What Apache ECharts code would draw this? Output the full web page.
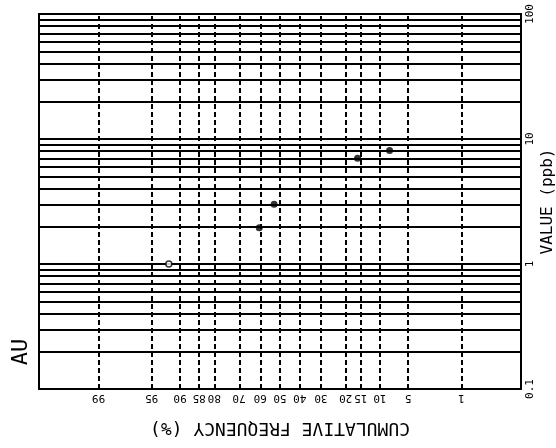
<!DOCTYPE html>
<html>
<head>
<meta charset="utf-8">
<script src="https://cdn.jsdelivr.net/npm/echarts@6/dist/echarts.min.js"></script>
<style>
  html, body { margin: 0; padding: 0; background: #fff; }
  #chart { width: 556px; height: 448px; }
</style>
</head>
<body>
<div id="chart"></div>
<script>
// Cumulative frequency (probability) plot of Au values, drawn sideways
const element = 'AU';
const freqTicks = [99, 95, 90, 85, 80, 70, 60, 50, 40, 30, 20, 15, 10, 5, 1];
const freqRange = [0.1, 99.9];
const valueRange = [0.1, 100];
const gridMultiples = [1, 2, 3, 4, 5, 6, 7, 8, 9];
const gridDecades = [0.1, 1, 10];

// samples: cumulative frequency (%) and value (ppb)
const sampleFreq = [60.5, 53, 16, 8];
const sampleValue = [1.95, 3.0, 7.0, 8.1];
// sample below the usual range, drawn hollow
const lowFreq = [92.3];
const lowValue = [1.0];

// inverse of the standard normal CDF (Acklam), used as the probability scale
function probit(pct) {
  const p = pct / 100;
  const a = [-3.969683028665376e+01, 2.209460984245205e+02, -2.759285104469687e+02,
             1.383577518672690e+02, -3.066479806614716e+01, 2.506628277459239e+00];
  const b = [-5.447609879822406e+01, 1.615858368580409e+02, -1.556989798598866e+02,
             6.680131188771972e+01, -1.328068155288572e+01];
  const c = [-7.784894002430293e-03, -3.223964580411365e-01, -2.400758277161838e+00,
             -2.549732539343734e+00, 4.374664141464968e+00, 2.938163982698783e+00];
  const d = [7.784695709041462e-03, 3.224671290700398e-01, 2.445134137142996e+00,
             3.754408661907416e+00];
  const pl = 0.02425, ph = 1 - pl;
  let q, r;
  if (p < pl) {
    q = Math.sqrt(-2 * Math.log(p));
    return (((((c[0]*q+c[1])*q+c[2])*q+c[3])*q+c[4])*q+c[5]) / ((((d[0]*q+d[1])*q+d[2])*q+d[3])*q+1);
  }
  if (p <= ph) {
    q = p - 0.5; r = q * q;
    return (((((a[0]*r+a[1])*r+a[2])*r+a[3])*r+a[4])*r+a[5])*q / (((((b[0]*r+b[1])*r+b[2])*r+b[3])*r+b[4])*r+1);
  }
  q = Math.sqrt(-2 * Math.log(1 - p));
  return -(((((c[0]*q+c[1])*q+c[2])*q+c[3])*q+c[4])*q+c[5]) / ((((d[0]*q+d[1])*q+d[2])*q+d[3])*q+1);
}

const freqZ = freqTicks.map(probit);
const valueGrid = [];
gridDecades.forEach(dec => gridMultiples.forEach(m => valueGrid.push(+(dec * m).toPrecision(3))));
valueGrid.push(valueRange[1]);

const FONT = '"DejaVu Sans Mono", monospace';
const chart = echarts.init(document.getElementById('chart'), null, { renderer: 'canvas' });

chart.setOption({
  animation: false,
  backgroundColor: '#fff',
  grid: {
    left: 39, right: 35, top: 14, bottom: 59,
    containLabel: false,
    outerBoundsMode: 'none',
    show: true, borderColor: '#000', borderWidth: 2, backgroundColor: 'transparent'
  },
  xAxis: {
    type: 'value',
    inverse: true,
    min: probit(freqRange[0]),
    max: probit(freqRange[1]),
    axisLine: { show: false },
    axisTick: { show: false },
    splitLine: { show: false },
    axisLabel: {
      customValues: freqZ,
      rotate: 180,
      margin: 3,
      color: '#000',
      fontFamily: FONT,
      fontSize: 11,
      formatter: v => {
        const i = freqZ.findIndex(z => Math.abs(z - v) < 1e-6);
        return i >= 0 ? String(freqTicks[i]) : '';
      }
    },
    name: 'CUMULATIVE FREQUENCY (%)',
    nameLocation: 'middle',
    nameRotate: 180,
    nameGap: 30,
    nameTextStyle: { color: '#000', fontFamily: FONT, fontSize: 18 }
  },
  yAxis: {
    type: 'log',
    logBase: 10,
    min: valueRange[0],
    max: valueRange[1],
    position: 'right',
    axisLine: { show: false },
    axisTick: { show: false },
    splitLine: { show: false },
    axisLabel: {
      rotate: 90,
      margin: 4,
      color: '#000',
      fontFamily: FONT,
      fontSize: 11,
      formatter: v => String(+v.toPrecision(3))
    },
    name: 'VALUE (ppb)',
    nameLocation: 'middle',
    nameRotate: 90,
    nameGap: 19,
    nameMoveOverlap: false,
    nameTextStyle: { color: '#000', fontFamily: FONT, fontSize: 16 }
  },
  graphic: [{
    type: 'text',
    x: 21, y: 352,
    rotation: Math.PI / 2,
    style: {
      text: element,
      fill: '#000',
      font: '22px ' + FONT,
      textAlign: 'center',
      textVerticalAlign: 'middle'
    }
  }],
  series: [
    {
      name: 'value grid',
      type: 'line',
      data: [],
      silent: true,
      markLine: {
        silent: true,
        symbol: ['none', 'none'],
        label: { show: false },
        lineStyle: { color: '#000', type: 'solid', width: 1.8 },
        data: valueGrid.map(v => ({ yAxis: v }))
      }
    },
    {
      name: 'frequency grid',
      type: 'line',
      data: [],
      silent: true,
      markLine: {
        silent: true,
        symbol: ['none', 'none'],
        label: { show: false },
        lineStyle: { color: '#000', type: [5, 3], width: 2 },
        data: freqZ.map(z => ({ xAxis: z }))
      }
    },
    {
      name: 'samples',
      type: 'scatter',
      symbol: 'circle',
      symbolSize: 7,
      itemStyle: { color: '#000' },
      data: sampleFreq.map((f, i) => [probit(f), sampleValue[i]]),
      z: 5
    },
    {
      name: 'low samples',
      type: 'scatter',
      symbol: 'circle',
      symbolSize: 6,
      itemStyle: { color: '#fff', borderColor: '#000', borderWidth: 1.5 },
      data: lowFreq.map((f, i) => [probit(f), lowValue[i]]),
      z: 5
    }
  ]
});
</script>
</body>
</html>
